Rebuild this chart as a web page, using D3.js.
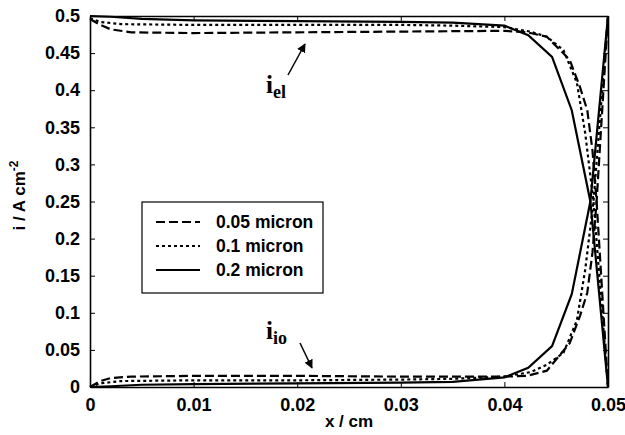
<!DOCTYPE html>
<html>
<head>
<meta charset="utf-8">
<script src="https://cdn.jsdelivr.net/npm/d3@7"></script>
<style>
  body { margin: 0; background: #fff; }
  svg { display: block; }
  .tick text, .lbl { font-family: "Liberation Sans", Arial, sans-serif; font-weight: bold; }
</style>
</head>
<body>
<svg id="chart" width="625" height="435"></svg>
<script>
// series data (x in cm, i in A/cm2)
let xSolid  = [0, 0.002, 0.005, 0.01, 0.02, 0.03, 0.035, 0.04, 0.0423, 0.0446, 0.0465, 0.0483, 0.05];
let elSolid = [0.500, 0.499, 0.496, 0.494, 0.493, 0.492, 0.491, 0.487, 0.474, 0.445, 0.373, 0.250, 0.000];
let ioSolid = [0.000, 0.001, 0.003, 0.004, 0.005, 0.006, 0.007, 0.013, 0.026, 0.055, 0.125, 0.250, 0.500];

let xDotted  = [0, 0.001, 0.003, 0.01, 0.02, 0.03, 0.035, 0.04, 0.0425, 0.0441, 0.0457, 0.047, 0.0478, 0.0486, 0.05];
let elDotted = [0.497, 0.492, 0.489, 0.488, 0.488, 0.488, 0.487, 0.485, 0.479, 0.472, 0.454, 0.410, 0.342, 0.250, 0.000];
let ioDotted = [0.000, 0.005, 0.008, 0.009, 0.009, 0.010, 0.011, 0.014, 0.020, 0.030, 0.046, 0.090, 0.158, 0.250, 0.500];

let xDashed  = [0, 0.001, 0.002, 0.004, 0.01, 0.02, 0.03, 0.04, 0.0422, 0.0441, 0.0463, 0.0473, 0.048, 0.0485, 0.0489, 0.05];
let elDashed = [0.496, 0.488, 0.482, 0.478, 0.477, 0.478, 0.479, 0.480, 0.478, 0.472, 0.441, 0.404, 0.373, 0.319, 0.250, 0.000];
let ioDashed = [0.000, 0.008, 0.012, 0.014, 0.015, 0.015, 0.014, 0.014, 0.015, 0.022, 0.059, 0.096, 0.127, 0.181, 0.250, 0.500];

let seriesNames = ['0.05 micron', '0.1 micron', '0.2 micron'];
let xTicks = [0, 0.01, 0.02, 0.03, 0.04, 0.05];
let yTicks = [0, 0.05, 0.1, 0.15, 0.2, 0.25, 0.3, 0.35, 0.4, 0.45, 0.5];

let padL = 90, padR = 608, padT = 16, padB = 387;

let svg = d3.select('#chart');
let x = d3.scaleLinear().domain([0, 0.05]).range([padL, padR]);
let y = d3.scaleLinear().domain([0, 0.5]).range([padB, padT]);
let fmt = d => String(+d.toFixed(3));

let styles = [
  { dash: '9,4' },   // 0.05 micron
  { dash: '3,3' },   // 0.1 micron
  { dash: null }     // 0.2 micron
];

let series = [
  { xs: xDashed, el: elDashed, io: ioDashed, style: styles[0] },
  { xs: xDotted, el: elDotted, io: ioDotted, style: styles[1] },
  { xs: xSolid,  el: elSolid,  io: ioSolid,  style: styles[2] }
];

// axes with inner ticks on every side
let axisBottom = d3.axisBottom(x).tickValues(xTicks).tickFormat(fmt).tickSizeInner(-5).tickSizeOuter(0).tickPadding(11);
let axisLeft = d3.axisLeft(y).tickValues(yTicks).tickFormat(fmt).tickSizeInner(-5).tickSizeOuter(0).tickPadding(10);

svg.append('g').attr('transform', 'translate(0,' + padB + ')').call(axisBottom);
svg.append('g').attr('transform', 'translate(' + padL + ',0)').call(axisLeft);
svg.append('g').attr('transform', 'translate(0,' + padT + ')')
   .call(d3.axisTop(x).tickValues(xTicks).tickFormat('').tickSizeInner(-5).tickSizeOuter(0));
svg.append('g').attr('transform', 'translate(' + padR + ',0)')
   .call(d3.axisRight(y).tickValues(yTicks).tickFormat('').tickSizeInner(-5).tickSizeOuter(0));

svg.selectAll('.domain').attr('stroke', '#000').attr('stroke-width', 1.6);
svg.selectAll('.tick line').attr('stroke', '#000').attr('stroke-width', 1);
svg.selectAll('.tick text').attr('font-size', 18).attr('fill', '#000');

// curves
let line = d3.line().x(d => x(d[0])).y(d => y(d[1]));
let plot = svg.append('g');
series.forEach(function (s) {
  [s.el, s.io].forEach(function (vals) {
    let pts = s.xs.map((xv, i) => [xv, vals[i]]);
    plot.append('path')
      .attr('d', line(pts))
      .attr('fill', 'none')
      .attr('stroke', '#000')
      .attr('stroke-width', 2.2)
      .attr('stroke-dasharray', s.style.dash);
  });
});

// axis titles
svg.append('text').attr('class', 'lbl')
   .attr('x', (padL + padR) / 2).attr('y', 427)
   .attr('text-anchor', 'middle').attr('font-size', 17)
   .text('x / cm');

let yl = svg.append('text').attr('class', 'lbl')
   .attr('transform', 'translate(25,' + ((padT + padB) / 2 - 6) + ') rotate(-90)')
   .attr('text-anchor', 'middle').attr('font-size', 17);
yl.append('tspan').text('i / A cm');
yl.append('tspan').attr('dy', -7).attr('font-size', 12).text('-2');

// legend
let lg = svg.append('g');
lg.append('rect').attr('x', 142).attr('y', 202).attr('width', 181).attr('height', 91)
  .attr('fill', '#fff').attr('stroke', '#000').attr('stroke-width', 1.2);
seriesNames.forEach(function (name, i) {
  let ly = 222 + i * 24;
  lg.append('line').attr('x1', 156).attr('x2', 200).attr('y1', ly).attr('y2', ly)
    .attr('stroke', '#000').attr('stroke-width', 2.2)
    .attr('stroke-dasharray', series[i].style.dash);
  lg.append('text').attr('class', 'lbl').attr('x', 216).attr('y', ly + 6)
    .attr('font-size', 17.5).text(name);
});

// annotations
let serif = '"Liberation Serif", "Times New Roman", serif';
let arrowDefs = svg.append('defs');
arrowDefs.append('marker').attr('id', 'ah').attr('viewBox', '0 0 10 10')
  .attr('refX', 9).attr('refY', 5).attr('markerWidth', 6).attr('markerHeight', 6)
  .attr('orient', 'auto')
  .append('path').attr('d', 'M0,0 L10,5 L0,10 z').attr('fill', '#000');

function label(px, py, sub) {
  let t = svg.append('text').attr('x', px).attr('y', py)
    .attr('font-family', serif).attr('font-weight', 'bold').attr('font-size', 25);
  t.append('tspan').text('i');
  t.append('tspan').attr('dy', 5).attr('font-size', 18).text(sub);
}
label(266, 93, 'el');
label(266, 339, 'io');

svg.append('line').attr('x1', 288).attr('y1', 75).attr('x2', 305).attr('y2', 44)
  .attr('stroke', '#000').attr('stroke-width', 1.5).attr('marker-end', 'url(#ah)');
svg.append('line').attr('x1', 300).attr('y1', 343).attr('x2', 312).attr('y2', 368)
  .attr('stroke', '#000').attr('stroke-width', 1.5).attr('marker-end', 'url(#ah)');
</script>
</body>
</html>
